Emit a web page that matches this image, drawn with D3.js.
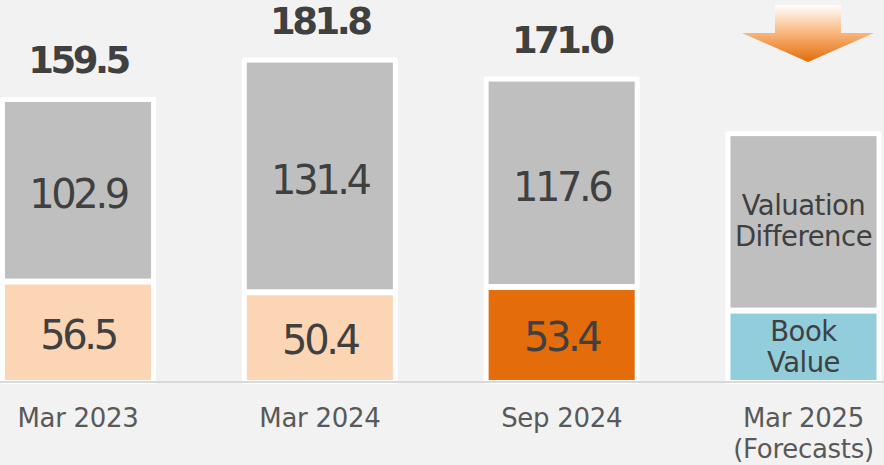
<!DOCTYPE html>
<html>
<head>
<meta charset="utf-8">
<script src="https://cdn.jsdelivr.net/npm/d3@7"></script>
<style>
  html, body { margin: 0; padding: 0; background: #f2f2f2; }
  svg { display: block; font-family: "DejaVu Sans", Verdana, sans-serif; }
</style>
</head>
<body>
<svg id="chart" width="884" height="465"></svg>
<script>
// ---------- data ----------
const categories = ["Mar 2023", "Mar 2024", "Sep 2024", "Mar 2025"];
const categorySub = ["", "", "", "(Forecasts)"];
const bookValue = [56.5, 50.4, 53.4, 40];          // last = forecast (unlabelled)
const valuationDiff = [102.9, 131.4, 117.6, 100];  // last = forecast (unlabelled)
const totals = [159.5, 181.8, 171.0, null];
const showValues = [true, true, true, false];
const seriesNames = ["Book\nValue", "Valuation\nDifference"];

// ---------- styles ----------
const bookColors = ["#fcd5b5", "#fcd5b5", "#e46c0a", "#92cddc"];
const valColor = "#bfbfbf";
const textColor = "#404040";
const axisTextColor = "#595959";

const W = 884, H = 465;
const baseline = 381;
const svg = d3.select("#chart");

const rows = categories.map((c, i) => ({ cat: c, book: bookValue[i], val: valuationDiff[i] }));
const stack = d3.stack().keys(["book", "val"]);
const layers = stack(rows);

const x = d3.scaleBand().domain(categories).range([-42.9, 924.4])
  .paddingInner(0.396).paddingOuter(0.198);
const y = d3.scaleLinear().domain([0, 216.5]).range([baseline, 0]);

const bw = x.bandwidth();

// white frames behind each stack
svg.append("g").selectAll("rect").data(rows).join("rect")
  .attr("x", d => x(d.cat) - 5)
  .attr("width", bw + 10)
  .attr("y", d => y(d.book + d.val) - 3.5)
  .attr("height", d => baseline + 3 - (y(d.book + d.val) - 3.5))
  .attr("fill", "#ffffff")
  .attr("rx", 2);

// segments
layers.forEach((layer, li) => {
  svg.append("g").selectAll("rect").data(layer).join("rect")
    .attr("x", d => x(d.data.cat))
    .attr("width", bw)
    .attr("y", d => li === layers.length - 1 ? y(d[1]) + 1.5 : y(d[1]) + 3)
    .attr("height", d => {
      const top = li === layers.length - 1 ? y(d[1]) + 1.5 : y(d[1]) + 3;
      const bot = li === 0 ? baseline - 1 : y(d[0]) - 3;
      return bot - top;
    })
    .attr("fill", (d, i) => li === 0 ? bookColors[i] : valColor);
});

// axis baseline
svg.append("line")
  .attr("x1", 0).attr("x2", W)
  .attr("y1", baseline + 1).attr("y2", baseline + 1)
  .attr("stroke", "#d9d9d9").attr("stroke-width", 2);

// segment value labels
layers.forEach((layer, li) => {
  svg.append("g").selectAll("text").data(layer.filter((d, i) => showValues[i])).join("text")
    .attr("x", d => x(d.data.cat) + bw / 2)
    .attr("y", d => (y(d[0]) + y(d[1])) / 2 + 3)
    .attr("dy", "0.36em")
    .attr("text-anchor", "middle")
    .attr("fill", textColor)
    .attr("font-size", 40)
    .attr("letter-spacing", "-3.4px")
    .text(d => li === 0 ? d.data.book.toFixed(1) : d.data.val.toFixed(1));
});

// totals
svg.append("g").selectAll("text").data(rows.filter((d, i) => totals[i] != null)).join("text")
  .attr("x", d => x(d.cat) + bw / 2)
  .attr("y", d => y(d.book + d.val) - 27)
  .attr("text-anchor", "middle")
  .attr("fill", textColor)
  .attr("font-size", 37)
  .attr("font-weight", "bold")
  .attr("letter-spacing", "-3.5px")
  .text((d, i) => totals[categories.indexOf(d.cat)].toFixed(1));

// series name labels inside the forecast bar
const fi = categories.length - 1;
layers.forEach((layer, li) => {
  const d = layer[fi];
  const lines = seriesNames[li].split("\n");
  const cy = (y(d[0]) + y(d[1])) / 2 + (li === 0 ? 1 : -2);
  const t = svg.append("text")
    .attr("x", x(categories[fi]) + bw / 2)
    .attr("text-anchor", "middle")
    .attr("fill", textColor)
    .attr("font-size", 27.5)
    .attr("letter-spacing", "-0.5px");
  lines.forEach((ln, k) => {
    t.append("tspan")
      .attr("x", x(categories[fi]) + bw / 2)
      .attr("y", cy + (k - (lines.length - 1) / 2) * 31)
      .attr("dy", "0.36em")
      .text(ln);
  });
});

// category labels
const xAxisG = svg.append("g");
categories.forEach((c, i) => {
  const t = xAxisG.append("text")
    .attr("x", x(c) + bw / 2)
    .attr("text-anchor", "middle")
    .attr("fill", axisTextColor)
    .attr("font-size", 26)
    .attr("letter-spacing", "-0.3px");
  t.append("tspan").attr("x", x(c) + bw / 2).attr("y", 427).text(c);
  if (categorySub[i]) t.append("tspan").attr("x", x(c) + bw / 2).attr("y", 458).text(categorySub[i]);
});

// forecast arrow
const defs = svg.append("defs");
const grad = defs.append("linearGradient").attr("id", "arrowGrad")
  .attr("x1", 0).attr("y1", 0).attr("x2", 0).attr("y2", 1);
grad.append("stop").attr("offset", "0%").attr("stop-color", "#ffffff");
grad.append("stop").attr("offset", "50%").attr("stop-color", "#f9b47a");
grad.append("stop").attr("offset", "100%").attr("stop-color", "#e46c0a");
const cx = x(categories[fi]) + bw / 2 + 4.5;
const ap = [
  [cx - 33, 5], [cx + 33, 5], [cx + 33, 33], [cx + 66, 33],
  [cx, 62], [cx - 66, 33], [cx - 33, 33]
];
svg.append("path")
  .attr("d", d3.line()(ap) + "Z")
  .attr("fill", "url(#arrowGrad)");
</script>
</body>
</html>
